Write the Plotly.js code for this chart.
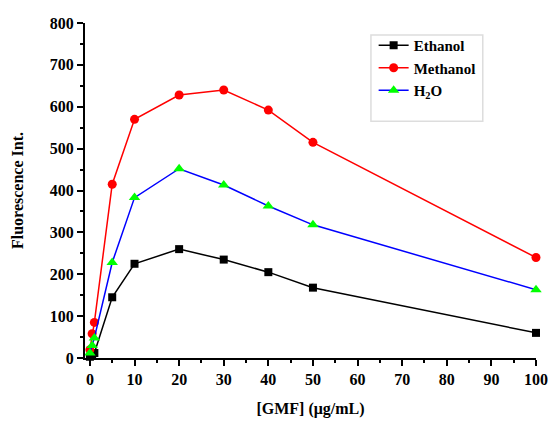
<!DOCTYPE html>
<html>
<head>
<meta charset="utf-8">
<script src="https://cdn.plot.ly/plotly-3.0.1.min.js"></script>
<style>html,body{margin:0;padding:0;background:#fff;}#chart{width:550px;height:421px;}</style>
</head>
<body>
<div id="chart"></div>
<script>
var concentrations = [0, 0.5, 1, 5, 10, 20, 30, 40, 50, 100];
var ethanol  = [3, 8, 12, 145, 225, 260, 235, 205, 168, 60];
var methanol = [20, 58, 85, 415, 570, 628, 640, 592, 515, 240];
var water    = [12, 30, 48, 228, 383, 452, 413, 363, 318, 163];
var seriesNames = ["Ethanol", "Methanol", "H<sub>2</sub>O"];
var xTicks = [0, 10, 20, 30, 40, 50, 60, 70, 80, 90, 100];
var yTicks = [0, 100, 200, 300, 400, 500, 600, 700, 800];

var fontFam = '"Liberation Serif", "Times New Roman", serif';

var traces = [
  {x: concentrations, y: ethanol, name: seriesNames[0], mode: 'lines+markers',
   line: {color: '#000000', width: 1.5}, marker: {symbol: 'square', size: 8, color: '#000000'}, cliponaxis: false},
  {x: concentrations, y: methanol, name: seriesNames[1], mode: 'lines+markers',
   line: {color: '#ff0000', width: 1.5}, marker: {symbol: 'circle', size: 9, color: '#ff0000'}, cliponaxis: false},
  {x: concentrations, y: water, name: seriesNames[2], mode: 'lines+markers',
   line: {color: '#0000ff', width: 1.5}, marker: {symbol: 'triangle-up', size: 10, color: '#00ff00'}, cliponaxis: false}
];

var layout = {
  width: 550, height: 421,
  margin: {l: 85, r: 14, t: 23, b: 63},
  paper_bgcolor: '#ffffff', plot_bgcolor: '#ffffff',
  font: {family: fontFam, color: '#000000', size: 15, weight: 'bold'},
  showlegend: true,
  legend: {x: 0.64, y: 0.982, xanchor: 'left', yanchor: 'top', bgcolor: 'rgba(0,0,0,0)',
           borderwidth: 0, font: {family: fontFam, size: 15, weight: 'bold'}, tracegroupgap: 0, itemwidth: 30},
  shapes: [{type: 'rect', xref: 'paper', yref: 'paper', x0: 0.634, x1: 0.882, y0: 0.707, y1: 0.964,
            line: {color: '#dddddd', width: 1.5}, fillcolor: 'rgba(0,0,0,0)'}],
  xaxis: {
    range: [-1.1, 100], tickvals: xTicks, ticktext: xTicks.map(String),
    ticks: 'outside', ticklen: 6, tickwidth: 2, tickcolor: '#000',
    showline: true, linecolor: '#000', linewidth: 2, showgrid: false, zeroline: false,
    tickfont: {family: fontFam, size: 16, weight: 'bold'},
    minor: {ticks: 'outside', ticklen: 3, tickwidth: 2, dtick: 5, tick0: 0, tickcolor: '#000', showgrid: false},
    title: {text: '[GMF] (μg/mL)', font: {family: fontFam, size: 16, weight: 'bold'}, standoff: 16}
  },
  yaxis: {
    range: [0, 800], tickvals: yTicks, ticktext: yTicks.map(String),
    ticks: 'outside', ticklen: 6, tickwidth: 2, tickcolor: '#000',
    showline: true, linecolor: '#000', linewidth: 2, showgrid: false, zeroline: false,
    tickfont: {family: fontFam, size: 16, weight: 'bold'},
    minor: {ticks: 'outside', ticklen: 3, tickwidth: 2, dtick: 50, tick0: 0, tickcolor: '#000', showgrid: false},
    title: {text: 'Fluorescence Int.', font: {family: fontFam, size: 16, weight: 'bold'}, standoff: 22}
  }
};

Plotly.newPlot('chart', traces, layout, {displayModeBar: false, staticPlot: true});
</script>
</body>
</html>
